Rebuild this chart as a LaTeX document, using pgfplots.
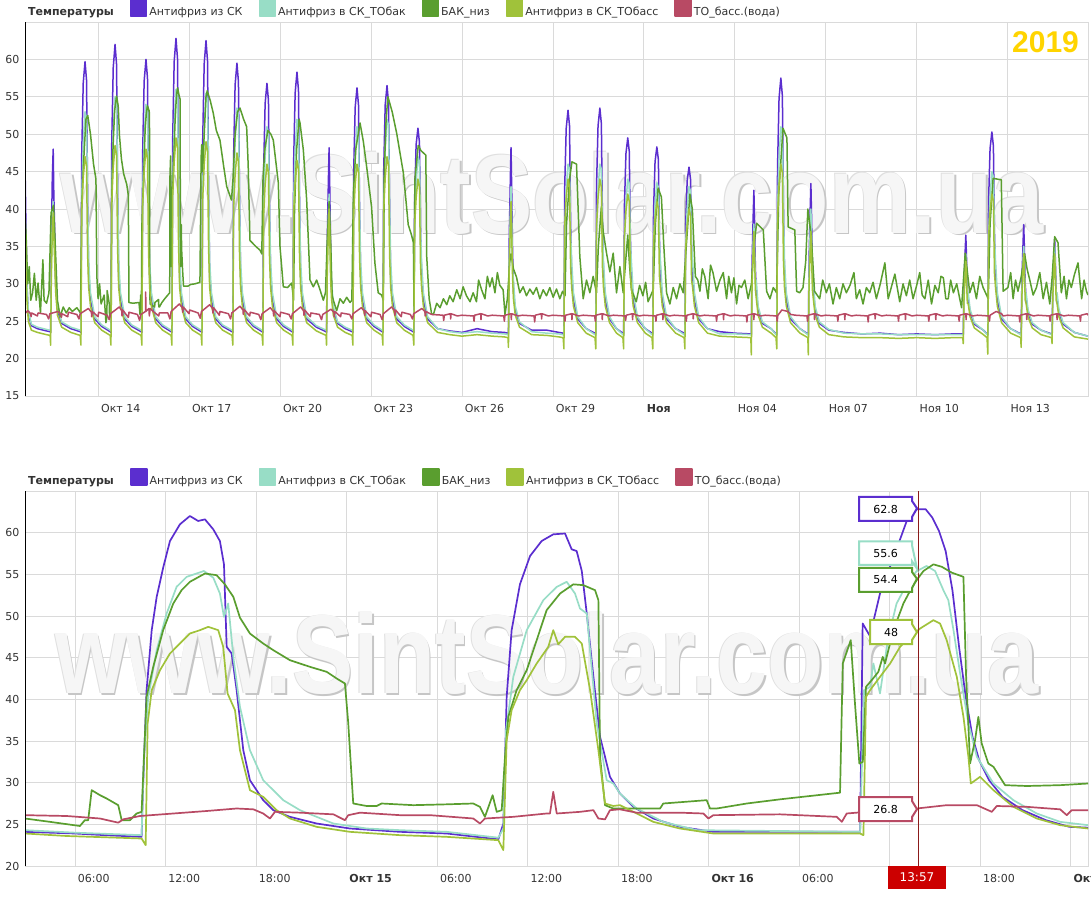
\documentclass[border=0pt]{standalone}
\usepackage{fontspec}
\setmainfont{DejaVu Sans}
\newfontfamily\arialfont{Liberation Sans}
\usepackage{pgfplots}
\usepackage{pgfplotstable}
\pgfplotsset{compat=1.18}

\definecolor{cP}{HTML}{5B2ECF}
\definecolor{cT}{HTML}{98DDC6}
\definecolor{cG}{HTML}{5A9E2F}
\definecolor{cY}{HTML}{A0C23A}
\definecolor{cR}{HTML}{B84A64}
\definecolor{gridc}{HTML}{DADADA}
\definecolor{labc}{HTML}{333333}
\definecolor{gold}{HTML}{FFD400}
\definecolor{cursor}{HTML}{8B1A1A}
\definecolor{timebox}{HTML}{CC0000}

\newcommand{\ff}{\fontsize{11}{13}\selectfont}
\newcommand{\wmtext}{\scalebox{1}[1.22]{\arialfont\bfseries\fontsize{92}{92}\selectfont www.SintSolar.com.ua}}
\newcommand{\watermark}[2]{%
  \node[anchor=base, inner sep=0pt, text=gray!45, xshift=1.6pt, yshift=-1.6pt] at (rel axis cs:#1,#2) {\wmtext};
  \node[anchor=base, inner sep=0pt, text=gray!25, xshift=-0.8pt, yshift=0.8pt] at (rel axis cs:#1,#2) {\wmtext};
  \node[anchor=base, inner sep=0pt, text=gray!7] at (rel axis cs:#1,#2) {\wmtext};
}
% tooltip: L, R, T, B, tip y, colour, text
\newcommand{\tip}[7]{%
  \draw[#6, line width=2pt, fill=white, line join=miter]
    (#1,#3) -- (#2,#3) -- (#2,{(#3+#4)/2+8}) -- (917,#5) -- (#2,{(#3+#4)/2-8}) -- (#2,#4) -- (#1,#4) -- cycle;
  \node[font=\ff, text=black] at ({(#1+#2)/2},{(#3+#4)/2}) {#7};
}

\pgfplotsset{chart/.style={
  scale only axis, anchor=south west, width=1063pt,
  axis line style={draw=gridc},
  xmajorgrids, ymajorgrids, grid style={draw=gridc, line width=0.7pt},
  major tick length=0pt,
  tick label style={font=\ff, text=labc},
  /pgf/number format/assume math mode=true,
  yticklabel style={anchor=east, xshift=-2pt},
  xticklabel style={anchor=north west, xshift=-0.5pt, yshift=-5pt},
  legend columns=-1,
  legend style={at={(0,1)}, anchor=south west, xshift=1pt, yshift=3pt, draw=none, fill=none,
    inner sep=0pt, font=\ff, text=labc,
    /tikz/every even column/.append style={column sep=14pt}},
  legend image code/.code={\fill[##1] (-2pt,-4pt) rectangle (14pt,12pt);},
  every axis plot/.append style={mark=none, line join=round},
}}

% ---------- top panel: 12 Oct - 15 Nov, x = day of October ----------
\pgfplotstableread{
d P T Y
11.59 46 40 39.5
11.62 38 34 32
11.65 30 30 28
11.70 26 26.5 25
11.80 24.4 24.6 23.8
12.00 24.0 24.2 23.5
12.30 23.7 23.9 23.2
12.42 23.6 23.8 23.1
12.435 23.5 23.7 21.8
12.46 35.8 32.4 31.3
12.49 44 39.0 37.0
12.52 48 41 39.5
12.54 42 38 36.5
12.57 37 34 33
12.60 30 31 29
12.66 26.5 27 25.8
12.80 24.7 24.9 24.2
13.10 24.0 24.2 23.5
13.41 23.6 23.8 23.1
13.435 23.5 23.7 21.8
13.46 47.1 41.3 39.8
13.51 56.8 48.6 44.1
13.57 59.7 53 47
13.62 57.2 52.1 45.8
13.655 41.7 41.3 33.9
13.69 31 33 29.5
13.75 27.8 28.8 27
13.89 25.3 25.6 24.8
14.12 24.3 24.5 23.8
14.40 23.6 23.8 23.1
14.425 23.5 23.7 21.8
14.45 48.6 42.5 40.9
14.50 58.9 50.3 45.5
14.56 62 55 48.5
14.61 59.3 54.1 47.2
14.645 42.8 42.5 34.5
14.68 31 33 29.5
14.74 27.8 28.8 27
14.88 25.3 25.6 24.8
15.11 24.3 24.5 23.8
15.42 23.6 23.8 23.1
15.445 23.5 23.7 21.8
15.47 47.3 41.9 40.5
15.52 57.1 49.5 45.0
15.58 60 54 48
15.63 57.5 53.1 46.8
15.665 41.8 41.9 34.3
15.70 31 33 29.5
15.76 27.8 28.8 27
15.90 25.3 25.6 24.8
16.13 24.3 24.5 23.8
16.41 23.6 23.8 23.1
16.435 23.5 23.7 21.8
16.46 49.1 43.1 41.6
16.51 59.7 51.2 46.3
16.57 62.8 56 49.5
16.62 60.1 55.0 48.2
16.655 43.2 43.1 35.0
16.69 31 33 29.5
16.75 27.8 28.8 27
16.89 25.3 25.6 24.8
17.12 24.3 24.5 23.8
17.40 23.6 23.8 23.1
17.425 23.5 23.7 21.8
17.45 48.9 42.8 41.2
17.50 59.4 50.7 45.9
17.56 62.5 55.5 49
17.61 59.8 54.5 47.7
17.645 43.1 42.8 34.8
17.68 31 33 29.5
17.74 27.8 28.8 27
17.88 25.3 25.6 24.8
18.11 24.3 24.5 23.8
18.42 23.6 23.8 23.1
18.445 23.5 23.7 21.8
18.47 46.9 41.6 40.2
18.52 56.6 49.0 44.6
18.58 59.5 53.5 47.5
18.63 57.0 52.6 46.3
18.665 41.6 41.6 34.1
18.70 31 33 29.5
18.76 27.8 28.8 27
18.90 25.3 25.6 24.8
19.13 24.3 24.5 23.8
19.41 23.6 23.8 23.1
19.435 23.5 23.7 21.8
19.46 45.2 40.1 39.1
19.51 54.1 46.9 43.3
19.57 56.8 51 46
19.62 54.5 50.2 44.9
19.655 40.2 40.1 33.4
19.69 31 33 29.5
19.75 27.8 28.8 27
19.89 25.3 25.6 24.8
20.12 24.3 24.5 23.8
20.40 23.6 23.8 23.1
20.425 23.5 23.7 21.8
20.45 46.2 40.7 39.5
20.50 55.5 47.8 43.7
20.56 58.3 52 46.5
20.61 55.9 51.2 45.3
20.645 41.0 40.7 33.6
20.68 31 33 29.5
20.74 27.8 28.8 27
20.88 25.3 25.6 24.8
21.20 24.2 24.4 23.7
21.52 23.6 23.8 23.1
21.535 23.5 23.7 21.8
21.56 35.9 32.9 31.6
21.60 44.5 39.3 37.5
21.62 48.2 42 40
21.64 43.3 38.4 36.6
21.67 34.7 32.0 30.7
21.70 29 30.5 28
21.76 26.5 27 25.8
21.90 24.7 24.9 24.2
22.15 24.0 24.2 23.5
22.38 23.6 23.8 23.1
22.405 23.5 23.7 21.8
22.43 44.8 40.1 39.1
22.48 53.6 46.9 43.3
22.54 56.2 51 46
22.59 53.9 50.2 44.9
22.625 39.9 40.1 33.4
22.66 31 33 29.5
22.72 27.8 28.8 27
22.86 25.3 25.6 24.8
23.10 24.3 24.5 23.8
23.37 23.6 23.8 23.1
23.395 23.5 23.7 21.8
23.42 45.0 40.7 39.8
23.47 53.9 47.8 44.1
23.53 56.5 52 47
23.58 54.2 51.2 45.8
23.615 40.1 40.7 33.9
23.65 31 33 29.5
23.71 27.8 28.8 27
23.85 25.3 25.6 24.8
24.10 24.3 24.5 23.8
24.39 23.6 23.8 23.1
24.415 23.5 23.7 21.8
24.44 41.3 37.7 37.7
24.49 48.6 43.5 41.5
24.55 50.8 47 44
24.60 48.9 46.3 43.0
24.635 37.2 37.7 32.5
24.67 31 33 29.5
24.73 27.8 28.8 27
24.87 25.3 25.6 24.8
25.20 24.0 24.0 23.5
25.60 23.7 23.6 23.2
26.00 23.5 23.4 23.0
26.50 24.0 23.6 23.2
27.00 23.6 23.4 23.0
27.40 23.5 23.3 22.9
27.52 23.4 23.2 22.8
27.535 23.3 23.1 21.5
27.56 35.8 33.1 31.9
27.60 44.5 40.0 38.3
27.62 48.2 43 41
27.64 43.2 39.0 37.4
27.67 34.6 32.1 31.0
27.70 29 30.5 28
27.76 26.5 27 25.8
27.90 24.7 24.9 24.2
28.30 23.8 23.6 23.2
28.80 23.8 23.4 23.1
29.20 23.5 23.3 22.9
29.34 23.4 23.2 22.8
29.365 23.3 23.1 21.3
29.39 42.8 36.9 37.6
29.44 50.8 42.6 41.5
29.50 53.2 46 44
29.55 51.1 45.3 42.9
29.585 38.3 36.9 32.3
29.62 31 33 29.5
29.68 27.8 28.8 27
29.82 25.3 25.6 24.8
30.10 24.0 24.0 23.4
30.39 23.4 23.2 22.8
30.415 23.3 23.1 21.3
30.44 43.0 36.9 37.6
30.49 51.1 42.6 41.5
30.55 53.5 46 44
30.60 51.4 45.3 42.9
30.635 38.5 36.9 32.3
30.67 31 33 29.5
30.73 27.8 28.8 27
30.87 25.3 25.6 24.8
31.10 24.0 24.0 23.4
31.31 23.4 23.2 22.8
31.335 23.3 23.1 21.3
31.36 40.4 35.7 36.2
31.41 47.4 40.9 39.7
31.47 49.5 44 42
31.52 47.7 43.4 41.0
31.555 36.5 35.7 31.4
31.59 31 33 29.5
31.65 27.8 28.8 27
31.79 25.3 25.6 24.8
32.05 24.0 24.0 23.4
32.27 23.4 23.2 22.8
32.295 23.3 23.1 21.3
32.32 39.6 35.4 35.5
32.37 46.3 40.5 38.8
32.43 48.3 43.5 41
32.48 46.6 42.9 40.1
32.515 35.9 35.4 31.0
32.55 31 33 29.5
32.61 27.8 28.8 27
32.75 25.3 25.6 24.8
33.05 24.0 24.0 23.4
33.33 23.4 23.2 22.8
33.355 23.3 23.1 21.3
33.38 37.8 35.1 34.8
33.43 43.8 40.0 37.9
33.49 45.6 43 40
33.54 44.0 42.4 39.1
33.575 34.5 35.1 30.5
33.61 31 33 29.5
33.67 27.8 28.8 27
33.81 25.3 25.6 24.8
34.10 24.0 24.0 23.4
34.50 23.6 23.3 23.0
35.00 23.4 23.3 22.9
35.53 23.3 23.2 22.8
35.545 23.2 23.1 20.5
35.57 32.9 30.6 29.9
35.61 39.5 35.8 34.9
35.63 42.5 38 37
35.65 38.6 35.0 34.2
35.68 31.9 29.9 29.2
35.71 29 30.5 28
35.77 26.5 27 25.8
35.91 24.7 24.9 24.2
36.20 24.0 24.0 23.4
36.36 23.3 23.2 22.8
36.385 23.2 23.1 21.3
36.41 45.5 39.9 39.0
36.46 54.8 46.8 43.2
36.52 57.5 51 46
36.57 55.1 50.2 44.8
36.605 40.4 39.9 33.2
36.64 31 33 29.5
36.70 27.8 28.8 27
36.84 25.3 25.6 24.8
37.15 24.0 24.0 23.4
37.41 23.3 23.2 22.8
37.425 23.2 23.1 20.5
37.45 33.4 31.6 29.9
37.49 40.4 37.5 34.9
37.51 43.4 40 37
37.53 39.4 36.6 34.2
37.56 32.3 30.8 29.2
37.59 29 30.5 28
37.65 26.5 27 25.8
37.79 24.7 24.9 24.2
38.10 23.8 23.9 23.2
38.60 23.5 23.4 22.9
39.20 23.3 23.3 22.8
39.80 23.4 23.3 22.8
40.40 23.2 23.2 22.7
41.00 23.3 23.2 22.8
41.60 23.2 23.2 22.7
42.20 23.3 23.2 22.8
42.52 23.3 23.2 22.8
42.535 23.2 23.1 22.0
42.56 29.9 28.6 27.9
42.60 34.5 32.4 31.5
42.62 36.5 34 33
42.64 33.9 31.8 31.0
42.67 29.2 28.1 27.4
42.70 28 28.8 27.3
42.76 26.2 26.6 25.6
42.90 24.6 24.8 24.1
43.20 23.8 23.8 23.2
43.32 23.3 23.2 22.8
43.345 23.2 23.1 20.6
43.37 40.9 36.3 36.2
43.42 48.1 41.7 39.7
43.48 50.3 45 42
43.53 48.4 44.3 41.0
43.565 36.8 36.3 31.4
43.60 31 33 29.5
43.66 27.8 28.8 27
43.80 25.3 25.6 24.8
44.10 24.0 24.0 23.4
44.43 23.3 23.2 22.8
44.445 23.2 23.1 21.5
44.47 30.6 29.1 28.4
44.51 35.7 33.2 32.3
44.53 37.9 35 34
44.55 35.0 32.6 31.8
44.58 29.9 28.5 27.8
44.61 28 28.8 27.3
44.67 26.2 26.6 25.6
44.81 24.6 24.8 24.1
45.10 23.8 23.8 23.2
45.45 23.3 23.2 22.8
45.465 23.2 23.1 22.0
45.49 29.7 29.1 28.4
45.53 34.1 33.2 32.3
45.55 36 35 34
45.57 33.5 32.6 31.8
45.60 29.0 28.5 27.8
45.63 28 28.8 27.3
45.69 26.2 26.6 25.6
45.83 24.6 24.8 24.1
46.20 23.5 23.5 22.9
46.65 23.0 23.0 22.6
}\topA

\pgfplotstableread{
d G
11.59 39.5
11.63 36
11.68 30
11.73 32.3
11.78 27.8
11.84 28.8
11.90 31.4
11.96 27.8
12.02 30.1
12.10 26.1
12.18 33.2
12.22 27.8
12.30 27.4
12.38 28.8
12.45 39.5
12.53 40.5
12.58 36
12.66 27.8
12.75 25.6
12.85 26.9
12.95 26.1
13.05 26.8
13.15 26.3
13.30 26.8
13.42 26.1
13.46 40
13.52 46
13.60 52
13.66 52.5
13.75 50
13.85 46
13.93 44
13.96 31
14.00 28
14.05 30
14.10 27.3
14.20 28.5
14.26 24.8
14.29 25.5
14.30 29.1
14.34 28.1
14.37 27.3
14.38 25.5
14.42 26.3
14.434 26.5
14.448 40.3
14.466 43.9
14.494 48.3
14.545 53.1
14.609 55.1
14.664 53.8
14.706 49.8
14.77 46.7
14.844 44.7
14.945 43.3
14.996 41.9
15.005 37.1
15.019 27.5
15.148 27.4
15.35 27.5
15.383 25.9
15.404 28.5
15.415 26.5
15.429 26.7
15.438 33.1
15.447 37.9
15.47 41.1
15.498 43.5
15.525 47.1
15.553 50.7
15.59 52.7
15.627 53.8
15.687 53.1
15.696 51.9
15.70 33.1
15.714 27.3
15.866 26.9
15.875 27.5
15.995 27.9
16.004 26.9
16.023 26.9
16.105 27.5
16.198 28.0
16.363 28.8
16.371 44.3
16.393 47.1
16.405 39.5
16.417 32.3
16.426 32.5
16.435 41.5
16.469 43.3
16.481 45.1
16.511 48.3
16.538 51.5
16.566 53.8
16.594 55.4
16.621 56.2
16.672 55.2
16.704 54.7
16.711 43.1
16.723 32.3
16.736 35.1
16.745 37.9
16.755 34.7
16.787 31.9
16.819 29.7
16.971 29.7
17.048 29.9
17.20 30.0
17.36 30.2
17.40 47
17.42 48.6
17.45 45
17.50 50
17.56 55
17.60 55.8
17.70 54.5
17.80 52.8
17.90 50.5
18.02 49.2
18.15 45.5
18.243 43
18.40 41.2
18.45 44
18.52 50
18.60 53
18.68 53.5
18.80 52
18.90 51
18.95 46
19.01 35.8
19.20 35
19.34 34.5
19.40 34
19.44 44
19.50 48
19.60 50.5
19.70 50
19.78 49.2
19.945 43.5
20.00 35
20.11 29.6
20.25 29.5
20.386 30.1
20.45 27.8
20.48 40
20.55 48
20.63 52
20.66 51.5
20.77 47.9
20.88 41.2
20.99 30.5
21.10 29.6
21.21 30.5
21.32 29.2
21.43 27.8
21.50 28.8
21.56 36
21.62 41
21.67 36
21.72 28.5
21.76 27.8
21.87 26.4
21.98 28
22.09 27.4
22.20 28.2
22.31 27.5
22.37 27.8
22.42 42
22.50 48
22.64 51.5
22.75 49
22.86 45.6
23.02 40.3
23.13 32.8
23.24 28.8
23.35 28.5
23.41 27.8
23.44 45
23.50 52
23.56 55
23.70 53
23.85 50.1
24.07 44.8
24.23 37.9
24.34 36.5
24.40 35.5
24.42 27
24.45 44
24.56 48.5
24.65 47.8
24.81 47.2
24.84 33.6
24.92 28
25.00 26
25.06 25.9
25.17 27.4
25.28 26.8
25.39 28.0
25.50 27.2
25.60 28.4
25.71 27.6
25.83 29.2
25.94 28
26.04 29.6
26.15 28.4
26.27 27.6
26.37 28.8
26.48 27.6
26.55 30.5
26.65 29.2
26.76 28
26.84 31
26.92 29.6
27.00 30.8
27.09 28.8
27.17 31.5
27.25 29.8
27.36 29.2
27.42 25.9
27.50 28
27.58 33
27.62 34
27.70 32
27.80 30.9
27.91 28.8
28.02 29.6
28.13 28.4
28.24 29.3
28.35 28.6
28.46 29.5
28.57 28
28.68 29.2
28.79 28.4
28.90 29.5
29.01 28.2
29.12 29.3
29.23 28
29.32 29
29.40 28.4
29.45 38
29.55 44
29.63 46.3
29.78 46
29.89 33.6
30.00 28
30.11 30.5
30.22 28.8
30.33 31
30.44 28.8
30.50 35
30.60 40.3
30.66 37
30.77 34.1
30.88 31.6
30.99 34.1
31.10 28.8
31.21 32.3
31.32 28.8
31.40 33
31.47 36.5
31.52 33
31.59 29.2
31.75 27.6
31.86 29.8
31.97 28.4
32.06 30.2
32.14 27.6
32.31 29.2
32.38 38
32.47 42.8
32.58 41.6
32.66 35
32.75 28.8
32.86 27.3
32.97 29.5
33.08 28
33.19 30
33.30 28.8
33.40 35
33.52 42
33.60 40
33.70 31
33.78 30.5
33.85 29.0
33.93 32
34.01 31
34.12 28
34.20 32.5
34.28 31.5
34.40 29
34.51 30.5
34.62 31.5
34.73 28
34.80 31
34.89 28.8
34.97 30.8
35.06 27.3
35.14 29.8
35.22 29.5
35.33 30.5
35.44 28
35.55 30
35.63 35
35.72 38.1
35.94 37.2
36.05 29
36.16 28
36.27 29.5
36.38 28.8
36.45 42
36.59 50.8
36.72 49.5
36.76 37.6
36.98 37.2
37.04 29
37.14 28.8
37.25 29.5
37.34 33
37.41 40
37.52 36.5
37.63 29
37.80 28
37.90 30.5
38.02 28.8
38.12 30
38.24 27.3
38.35 29.5
38.46 28
38.57 30
38.68 28.8
38.80 29.8
38.93 31.5
39.01 28
39.12 29.2
39.23 27.3
39.34 29.5
39.45 28.8
39.56 30.2
39.67 28
39.80 30
39.95 32.8
40.06 28
40.16 29.5
40.28 31.3
40.44 27.6
40.55 30
40.66 28.4
40.77 30.5
40.88 28
41.00 29.8
41.10 31.5
41.18 28.5
41.27 28
41.38 30.5
41.49 27.3
41.60 29.8
41.71 28.8
41.80 31
41.88 30.8
41.96 28
42.04 28
42.12 30.5
42.21 28.8
42.32 30
42.48 26.8
42.55 31
42.60 34.1
42.66 32
42.75 28.8
42.86 30.2
42.97 28
43.08 31
43.19 29.5
43.36 28
43.42 38
43.52 44.1
43.79 43.9
43.85 29
44.01 29.5
44.10 31.5
44.18 28
44.26 30.5
44.34 29
44.45 31
44.56 34
44.64 32
44.73 30.5
44.84 28.5
44.95 29.5
45.06 31.5
45.17 28
45.28 30.2
45.39 27.3
45.47 31
45.55 36.3
45.66 35.5
45.77 28.8
45.86 31
45.94 28
46.02 30.5
46.10 29.5
46.20 31.2
46.32 32.8
46.44 28
46.52 30.5
46.60 29
46.65 28.5
}\topG

\pgfplotstableread{
d R
11.59 26.0
11.68 26.4
11.78 26.0
11.79 25.6
11.81 26.1
12.00 25.7
12.02 26.1
12.30 25.9
12.37 25.3
12.41 26.0
12.68 26.3
12.78 25.9
12.79 25.5
12.81 26.0
13.00 25.6
13.02 26.2
13.30 25.9
13.37 25.3
13.41 26.0
13.68 26.7
13.78 26.2
13.79 25.6
13.81 26.3
14.00 25.6
14.02 26.2
14.30 25.8
14.37 25.2
14.41 26.0
14.70 26.9
14.78 26.4
14.79 25.7
14.81 26.5
15.00 25.5
15.02 26.2
15.30 25.9
15.37 25.1
15.41 25.9
15.565 26.3
15.571 28.9
15.577 26.3
15.68 26.7
15.69 25.7
15.72 26.7
15.79 26.4
16.00 25.7
16.02 26.1
16.30 26.1
16.37 25.3
16.41 26.3
16.68 27.3
16.78 26.8
16.79 26.2
16.81 26.9
17.00 26.0
17.02 26.5
17.30 26.1
17.37 25.4
17.41 26.3
17.68 27.2
17.78 26.7
17.79 26.1
17.81 26.8
18.00 25.8
18.02 26.3
18.30 26.0
18.37 25.3
18.41 26.1
18.68 27.0
18.78 26.5
18.79 25.9
18.81 26.6
19.00 25.7
19.02 26.2
19.30 25.9
19.37 25.2
19.41 26.0
19.68 26.8
19.78 26.3
19.79 25.7
19.81 26.4
20.00 25.6
20.02 26.2
20.30 25.9
20.37 25.3
20.41 26.0
20.68 26.9
20.78 26.4
20.79 25.8
20.81 26.5
21.00 25.6
21.02 26.1
21.30 25.9
21.37 25.2
21.41 25.9
21.68 26.6
21.78 26.2
21.79 25.6
21.81 26.3
22.00 25.6
22.02 26.1
22.30 25.9
22.37 25.3
22.41 26.0
22.68 26.8
22.78 26.4
22.79 25.8
22.81 26.4
23.00 25.6
23.02 26.2
23.30 25.9
23.37 25.2
23.41 26.0
23.68 26.9
23.78 26.4
23.79 25.8
23.81 26.5
24.00 25.6
24.02 26.2
24.30 25.9
24.37 25.3
24.41 26.0
24.68 26.7
24.78 26.3
24.79 25.7
24.81 26.3
25.00 25.9
25.38 25.8
25.40 25.1
25.42 25.8
25.62 26.0
25.63 25.3
25.64 26.0
25.85 25.7
26.00 25.8
26.38 25.7
26.40 25.0
26.42 25.8
26.62 26.0
26.63 25.2
26.64 26.0
26.85 25.7
27.00 25.8
27.38 25.7
27.40 25.0
27.42 25.8
27.62 26.0
27.63 25.2
27.64 26.0
27.85 25.7
28.00 25.8
28.38 25.7
28.40 24.9
28.42 25.8
28.62 26.0
28.63 25.3
28.64 26.0
28.85 25.7
29.00 25.8
29.38 25.7
29.40 25.0
29.42 25.8
29.62 26.0
29.63 25.2
29.64 26.0
29.85 25.7
30.00 25.8
30.38 25.7
30.40 25.0
30.42 25.8
30.62 26.0
30.63 25.2
30.64 26.0
30.85 25.7
31.00 25.8
31.38 25.7
31.40 25.1
31.42 25.8
31.62 26.0
31.63 25.2
31.64 26.0
31.85 25.7
32.00 25.8
32.38 25.7
32.40 25.0
32.42 25.8
32.62 26.0
32.63 25.2
32.64 26.0
32.85 25.7
33.00 25.8
33.38 25.7
33.40 25.0
33.42 25.8
33.62 26.0
33.63 25.3
33.64 26.0
33.85 25.7
34.00 25.8
34.38 25.7
34.40 25.0
34.42 25.8
34.62 26.0
34.63 25.2
34.64 26.0
34.85 25.7
35.00 25.8
35.38 25.7
35.40 24.9
35.42 25.8
35.62 26.0
35.63 25.2
35.64 26.0
35.85 25.7
36.00 25.8
36.38 25.7
36.40 25.0
36.42 25.8
36.50 26.2
36.55 26.5
36.75 26.3
36.85 25.9
37.00 25.8
37.38 25.7
37.40 25.0
37.42 25.8
37.62 26.0
37.63 25.2
37.64 26.0
37.85 25.7
38.00 25.8
38.38 25.7
38.40 25.0
38.42 25.8
38.62 26.0
38.63 25.2
38.64 26.0
38.85 25.7
39.00 25.8
39.38 25.7
39.40 24.9
39.42 25.8
39.62 26.0
39.63 25.3
39.64 26.0
39.85 25.7
40.00 25.8
40.38 25.7
40.40 25.0
40.42 25.8
40.62 26.0
40.63 25.2
40.64 26.0
40.85 25.7
41.00 25.8
41.38 25.7
41.40 25.0
41.42 25.8
41.62 26.0
41.63 25.2
41.64 26.0
41.85 25.7
42.00 25.8
42.38 25.7
42.40 25.0
42.42 25.8
42.62 26.0
42.63 25.2
42.64 26.0
42.85 25.7
43.00 25.8
43.38 25.7
43.40 25.0
43.42 25.8
43.62 26.3
43.80 26.0
43.85 25.7
44.00 25.8
44.38 25.7
44.40 24.9
44.42 25.8
44.62 26.0
44.63 25.2
44.64 26.0
44.85 25.7
45.00 25.8
45.38 25.7
45.40 25.0
45.42 25.8
45.62 26.0
45.63 25.2
45.64 26.0
45.85 25.7
46.00 25.8
46.38 25.7
46.40 25.0
46.42 25.8
46.62 26.0
46.65 25.8
}\topR

% ---------- bottom panel: 14-16 Oct, x = hours from 14 Oct 00:00 ----------
\pgfplotstableread{
h P
2.69 24.1
6.00 23.9
8.00 23.7
10.42 23.5
10.51 29.1
10.75 41.1
11.09 48.3
11.42 52.3
11.85 55.8
12.30 59.0
12.96 61.0
13.62 62.0
14.17 61.4
14.62 61.6
15.17 60.4
15.61 59.0
15.88 56.2
16.06 46.3
16.39 45.5
16.72 41.1
17.16 33.9
17.60 30.3
18.48 27.9
19.15 26.7
20.25 25.9
22.02 25.1
24.23 24.5
27.55 24.1
30.64 23.9
34.07 23.2
34.40 25.1
34.62 40.3
34.95 48.3
35.50 53.8
36.17 57.2
36.94 59.0
37.71 59.8
38.49 59.9
38.93 58.0
39.26 57.8
39.60 55.4
39.93 50.3
40.37 42.7
40.81 35.5
41.47 30.7
42.13 28.7
43.02 27.1
44.34 25.7
46.11 24.7
48.32 24.1
52.74 24.1
58.05 24.1
58.22 49.1
58.70 47.6
59.37 52.7
60.26 57.0
61.14 61.4
61.80 62.8
62.40 62.8
62.84 61.8
63.28 60.2
63.72 57.8
64.17 53.1
64.61 46.3
65.05 40.3
65.50 35.5
65.94 32.7
66.60 30.3
67.49 28.3
68.82 26.7
70.37 25.5
71.92 24.7
73.16 24.6
}\botP

\pgfplotstableread{
h T
2.69 24.3
6.00 24.0
10.42 23.7
10.57 33.1
10.86 40.3
11.42 45.9
12.08 50.3
12.74 53.5
13.41 54.7
14.55 55.4
15.17 54.6
15.61 52.7
15.88 49.9
16.16 51.5
16.50 45.1
16.94 39.1
17.60 33.9
18.48 30.3
19.81 27.9
20.92 26.7
23.13 25.1
25.34 24.5
27.55 24.3
30.64 24.1
34.07 23.4
34.40 24.5
34.58 36.3
35.06 42.7
35.95 48.3
37.05 51.9
37.94 53.5
38.60 54.1
39.15 52.7
39.48 50.9
39.93 50.3
40.59 37.1
41.25 30.3
41.69 29.9
42.13 28.7
43.24 26.9
45.00 25.3
47.22 24.3
52.74 24.2
58.05 24.1
58.31 41.1
58.71 41.5
58.93 44.3
59.37 40.7
59.92 47.5
60.47 51.5
61.14 53.8
61.80 55.4
62.46 56.0
63.02 55.4
63.57 53.1
63.90 51.9
64.24 48.3
64.68 43.1
65.23 37.1
65.79 33.1
66.89 29.9
68.21 27.9
69.76 26.3
71.31 25.3
73.16 24.9
}\botT

\pgfplotstableread{
h G
2.69 25.7
4.34 25.3
6.33 24.8
6.66 25.5
6.88 25.5
7.11 29.1
7.66 28.5
8.10 28.1
8.87 27.3
9.10 25.5
9.65 25.5
10.09 26.3
10.42 26.5
10.75 40.3
11.19 43.9
11.85 48.3
12.52 51.5
13.07 53.1
13.62 54.1
14.62 55.1
15.39 54.9
15.94 53.8
16.50 52.3
16.94 49.8
17.60 47.9
18.48 46.7
19.15 45.9
20.25 44.7
21.58 43.9
22.69 43.3
23.35 42.5
23.90 41.9
24.12 37.1
24.45 27.5
25.34 27.2
26.00 27.2
26.33 27.5
28.43 27.3
30.64 27.4
32.41 27.5
32.85 27.1
33.18 25.9
33.69 28.5
33.96 26.5
34.29 26.7
34.51 33.1
34.73 37.9
35.28 41.1
35.95 43.5
36.61 47.1
37.27 50.7
38.16 52.7
39.04 53.8
39.70 53.7
40.48 53.1
40.70 51.9
40.81 33.1
41.14 27.3
41.69 26.9
44.79 26.9
45.00 27.5
47.88 27.9
48.10 26.9
48.54 26.9
50.53 27.5
52.74 28.0
56.72 28.8
56.90 44.3
57.43 47.1
57.71 39.5
58.00 32.3
58.23 32.5
58.44 41.5
58.82 42.3
59.26 43.3
59.55 45.1
59.70 44.3
60.26 48.3
60.92 51.5
61.59 53.8
62.25 55.4
62.91 56.2
63.47 55.9
64.13 55.2
64.90 54.7
65.07 43.1
65.34 32.3
65.67 35.1
65.89 37.9
66.11 34.7
66.55 32.3
66.89 31.9
67.66 29.7
69.10 29.6
71.31 29.7
73.16 29.9
}\botG

\pgfplotstableread{
h Y
2.69 23.9
5.45 23.6
10.42 23.3
10.69 22.5
10.82 37.1
11.09 41.1
11.64 43.5
12.30 45.5
13.07 46.9
13.62 47.9
14.29 48.3
14.84 48.7
15.50 48.3
15.83 46.3
16.12 40.7
16.61 38.7
16.94 33.9
17.60 29.1
18.48 28.3
19.37 26.7
20.25 25.7
22.02 24.7
24.23 24.1
27.55 23.7
30.64 23.5
34.07 23.1
34.40 21.9
34.62 35.1
34.95 38.7
35.50 41.1
35.95 42.3
36.61 44.3
37.38 46.3
37.71 48.3
38.04 46.6
38.49 47.5
39.15 47.5
39.60 46.7
40.15 41.1
40.70 33.9
41.14 27.5
41.69 27.2
42.13 27.3
43.02 26.5
44.34 25.3
46.11 24.5
48.32 23.9
52.74 23.9
58.05 23.9
58.27 23.7
58.44 40.3
58.71 41.1
59.37 42.7
60.04 44.3
60.70 46.3
61.36 47.5
62.03 48.5
62.91 49.5
63.35 49.1
63.79 47.1
64.46 42.7
64.90 37.9
65.23 33.1
65.39 29.9
66.00 30.7
66.89 29.1
68.21 27.1
69.76 25.7
71.31 24.9
73.16 24.5
}\botY

\pgfplotstableread{
h R
2.69 26.1
5.45 26.0
7.66 25.7
8.87 25.2
9.20 25.6
10.31 26.0
12.52 26.3
14.73 26.6
16.72 26.9
17.83 26.8
18.48 26.3
18.93 25.7
19.26 26.5
20.92 26.4
23.13 26.2
23.90 25.5
24.12 26.1
24.90 26.4
27.55 26.1
29.54 26.1
32.41 25.7
32.85 25.1
33.18 25.7
35.06 25.9
37.27 26.3
37.49 26.3
37.71 28.9
37.94 26.3
39.48 26.5
40.37 26.7
40.70 25.7
41.14 25.6
41.47 26.7
42.13 26.8
43.24 26.4
46.11 26.4
47.66 26.3
47.99 25.7
48.32 26.1
52.74 26.2
56.50 25.9
56.84 25.3
57.16 26.3
59.15 26.6
61.80 26.9
63.79 27.3
65.79 27.3
66.78 26.5
67.11 27.2
69.10 27.1
71.31 26.8
71.75 26.1
72.08 26.7
73.16 26.7
}\botR

\begin{document}
\begin{tikzpicture}[x=1pt, y=1pt]

% ================= top panel =================
\begin{axis}[chart, at={(25pt,501pt)}, height=374pt,
  xmin=11.59, xmax=46.65, ymin=15, ymax=65,
  ytick={15,20,...,60},
  xtick={14,17,20,23,26,29,32,35,38,41,44},
  xticklabels={Окт 14,Окт 17,Окт 20,Окт 23,Окт 26,Окт 29,\textbf{Ноя},Ноя 04,Ноя 07,Ноя 10,Ноя 13},
  every axis plot/.append style={line width=1.5pt},
]
\watermark{0.4958}{0.4358}
\addlegendimage{empty legend}\addlegendentry{\textbf{Температуры}}
\addplot[color=cP] table[x=d, y=P] {\topA};
\addlegendentry{Антифриз из СК}
\addplot[color=cT] table[x=d, y=T] {\topA};
\addlegendentry{Антифриз в СК\_ТОбак}
\addplot[color=cG] table[x=d, y=G] {\topG};
\addlegendentry{БАК\_низ}
\addplot[color=cY] table[x=d, y=Y] {\topA};
\addlegendentry{Антифриз в СК\_ТОбасс}
\addplot[color=cR] table[x=d, y=R] {\topR};
\addlegendentry{ТО\_басс.(вода)}
\draw[black, line width=2pt] (rel axis cs:0,0) -- (rel axis cs:0,1);
\end{axis}

% ================= bottom panel =================
\begin{axis}[chart, at={(25pt,31pt)}, height=375pt,
  xmin=2.69, xmax=73.16, ymin=20, ymax=65,
  ytick={20,25,...,60},
  xtick={6,12,...,72},
  xticklabels={06:00,12:00,18:00,\textbf{Окт 15},06:00,12:00,18:00,\textbf{Окт 16},06:00,12:00,18:00,\textbf{Окт 17}},
  every axis plot/.append style={line width=1.7pt},
]
\watermark{0.491}{0.4587}
\addlegendimage{empty legend}\addlegendentry{\textbf{Температуры}}
\addplot[color=cP] table[x=h, y=P] {\botP};
\addlegendentry{Антифриз из СК}
\addplot[color=cT] table[x=h, y=T] {\botT};
\addlegendentry{Антифриз в СК\_ТОбак}
\addplot[color=cG] table[x=h, y=G] {\botG};
\addlegendentry{БАК\_низ}
\addplot[color=cY] table[x=h, y=Y] {\botY};
\addlegendentry{Антифриз в СК\_ТОбасс}
\addplot[color=cR] table[x=h, y=R] {\botR};
\addlegendentry{ТО\_басс.(вода)}
\draw[cursor, line width=1pt] (axis cs:61.95,20) -- (axis cs:61.95,65);
\draw[black, line width=2pt] (rel axis cs:0,0) -- (rel axis cs:0,1);
\end{axis}

% year label
\node[font=\arialfont\bfseries\fontsize{30}{30}\selectfont, text=gold] at (1045.5,855) {2019};

% tooltips at the cursor
\tip{859}{912}{400}{376}{388.7}{cP}{62.8}
\tip{859}{912}{355.5}{332}{328.3}{cT}{55.6}
\tip{859}{912}{329}{305}{318.2}{cG}{54.4}
\tip{870}{912}{277}{253}{264.8}{cY}{48}
\tip{859}{912}{100}{76}{87.8}{cR}{26.8}
\node[fill=timebox, text=white, font=\fontsize{12}{14}\selectfont, minimum width=58pt, minimum height=23pt, inner sep=0pt] at (917,19.5) {13:57};

\pgfresetboundingbox
\path[use as bounding box] (0,0) rectangle (1091,897);
\end{tikzpicture}
\end{document}
